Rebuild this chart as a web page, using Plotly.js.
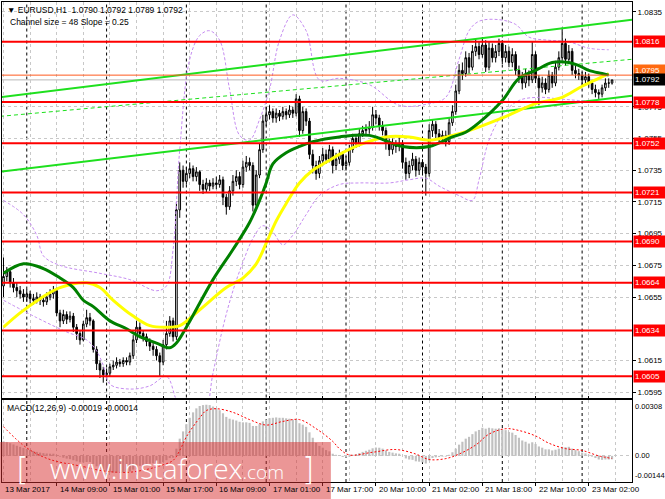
<!DOCTYPE html>
<html><head><meta charset="utf-8">
<script src="https://cdn.plot.ly/plotly-3.0.1.min.js"></script>
<style>html,body{margin:0;padding:0;background:#fff}#chart{width:665px;height:499px}</style>
</head><body><div id="chart"></div>
<script>
// ---------- DATA ----------
const openP=[1.0662,1.0668,1.0671,1.0664,1.0661,1.0659,1.0657,1.0655,1.0657,1.0654,
1.0653,1.0655,1.0653,1.0652,1.0655,1.0657,1.0659,1.0645,1.0640,1.0644,
1.0641,1.0643,1.0636,1.0632,1.0628,1.0638,1.0642,1.0640,1.0622,1.0613,
1.0609,1.0606,1.0607,1.0611,1.0612,1.0614,1.0613,1.0615,1.0614,1.0618,
1.0628,1.0636,1.0632,1.0630,1.0627,1.0624,1.0622,1.0618,1.0614,1.0625,
1.0632,1.0640,1.0630,1.0710,1.0735,1.0728,1.0733,1.0736,1.0731,1.0734,
1.0726,1.0723,1.0727,1.0725,1.0727,1.0726,1.0729,1.0718,1.0712,1.0722,
1.0728,1.0731,1.0726,1.0737,1.0740,1.0738,1.0713,1.0732,1.0748,1.0766,
1.0770,1.0772,1.0768,1.0771,1.0769,1.0772,1.0770,1.0773,1.0771,1.0780,
1.0760,1.0772,1.0766,1.0745,1.0738,1.0733,1.0741,1.0745,1.0742,1.0748,
1.0738,1.0742,1.0745,1.0738,1.0740,1.0748,1.0755,1.0752,1.0758,1.0760,
1.0761,1.0762,1.0770,1.0768,1.0763,1.0760,1.0752,1.0748,1.0752,1.0750,
1.0752,1.0740,1.0733,1.0738,1.0742,1.0735,1.0740,1.0737,1.0733,1.0760,
1.0764,1.0758,1.0755,1.0757,1.0753,1.0765,1.0772,1.0785,1.0798,1.0796,
1.0806,1.0800,1.0810,1.0813,1.0808,1.0814,1.0800,1.0812,1.0806,1.0810,
1.0815,1.0806,1.0810,1.0803,1.0808,1.0798,1.0794,1.0790,1.0795,1.0792,
1.0808,1.0793,1.0787,1.0790,1.0786,1.0795,1.0790,1.0800,1.0806,1.0815,
1.0805,1.0810,1.0798,1.0796,1.0795,1.0792,1.0794,1.0790,1.0786,1.0784,
1.0783,1.0787,1.0790,1.0790];
const highP=[1.0680,1.0674,1.0673,1.0667,1.0664,1.0662,1.0660,1.0660,1.0659,1.0657,
1.0658,1.0657,1.0656,1.0658,1.0660,1.0662,1.0661,1.0647,1.0647,1.0646,
1.0646,1.0645,1.0638,1.0634,1.0640,1.0647,1.0645,1.0641,1.0624,1.0615,
1.0611,1.0610,1.0613,1.0615,1.0617,1.0616,1.0617,1.0617,1.0620,1.0631,
1.0640,1.0639,1.0634,1.0632,1.0629,1.0626,1.0624,1.0620,1.0628,1.0640,
1.0643,1.0642,1.0715,1.0740,1.0738,1.0737,1.0740,1.0738,1.0737,1.0735,
1.0729,1.0730,1.0729,1.0730,1.0731,1.0732,1.0731,1.0720,1.0725,1.0732,
1.0735,1.0734,1.0741,1.0744,1.0743,1.0740,1.0735,1.0752,1.0770,1.0775,
1.0776,1.0774,1.0774,1.0773,1.0775,1.0774,1.0776,1.0775,1.0783,1.0782,
1.0775,1.0774,1.0768,1.0748,1.0741,1.0744,1.0749,1.0748,1.0751,1.0750,
1.0746,1.0748,1.0747,1.0744,1.0751,1.0758,1.0757,1.0761,1.0763,1.0764,
1.0766,1.0775,1.0773,1.0770,1.0766,1.0762,1.0755,1.0755,1.0754,1.0756,
1.0754,1.0743,1.0741,1.0746,1.0744,1.0743,1.0742,1.0739,1.0764,1.0767,
1.0766,1.0761,1.0760,1.0760,1.0768,1.0776,1.0789,1.0802,1.0803,1.0810,
1.0809,1.0814,1.0818,1.0816,1.0819,1.0817,1.0816,1.0815,1.0814,1.0818,
1.0817,1.0814,1.0813,1.0812,1.0810,1.0801,1.0797,1.0799,1.0798,1.0816,
1.0810,1.0795,1.0794,1.0793,1.0798,1.0797,1.0804,1.0810,1.0825,1.0818,
1.0814,1.0812,1.0801,1.0799,1.0797,1.0797,1.0796,1.0792,1.0789,1.0786,
1.0789,1.0793,1.0793,1.0792];
const lowP=[1.0655,1.0665,1.0661,1.0658,1.0655,1.0654,1.0652,1.0652,1.0651,1.0650,
1.0651,1.0650,1.0649,1.0650,1.0653,1.0654,1.0643,1.0636,1.0638,1.0638,
1.0639,1.0633,1.0628,1.0625,1.0627,1.0636,1.0637,1.0620,1.0609,1.0604,
1.0601,1.0602,1.0605,1.0609,1.0610,1.0611,1.0611,1.0612,1.0612,1.0616,
1.0626,1.0629,1.0627,1.0624,1.0621,1.0618,1.0615,1.0605,1.0612,1.0622,
1.0630,1.0627,1.0628,1.0705,1.0724,1.0726,1.0730,1.0728,1.0728,1.0722,
1.0720,1.0721,1.0722,1.0723,1.0723,1.0724,1.0713,1.0707,1.0710,1.0719,
1.0725,1.0723,1.0724,1.0734,1.0735,1.0709,1.0711,1.0730,1.0746,1.0763,
1.0767,1.0765,1.0765,1.0766,1.0767,1.0767,1.0768,1.0768,1.0769,1.0756,
1.0758,1.0763,1.0742,1.0733,1.0729,1.0730,1.0738,1.0739,1.0740,1.0733,
1.0735,1.0739,1.0735,1.0735,1.0738,1.0746,1.0749,1.0750,1.0756,1.0757,
1.0758,1.0760,1.0764,1.0760,1.0757,1.0748,1.0744,1.0745,1.0746,1.0747,
1.0736,1.0729,1.0730,1.0735,1.0731,1.0732,1.0733,1.0719,1.0731,1.0756,
1.0755,1.0752,1.0752,1.0750,1.0751,1.0763,1.0770,1.0783,1.0792,1.0794,
1.0796,1.0798,1.0807,1.0805,1.0806,1.0797,1.0798,1.0803,1.0803,1.0807,
1.0802,1.0803,1.0800,1.0800,1.0795,1.0790,1.0786,1.0787,1.0788,1.0790,
1.0790,1.0776,1.0784,1.0783,1.0784,1.0787,1.0788,1.0798,1.0804,1.0801,
1.0802,1.0795,1.0793,1.0792,1.0789,1.0789,1.0787,1.0783,1.0781,1.0780,
1.0781,1.0785,1.0787,1.0789];
const closeP=[1.0668,1.0671,1.0664,1.0661,1.0659,1.0657,1.0655,1.0657,1.0654,1.0653,
1.0655,1.0653,1.0652,1.0655,1.0657,1.0659,1.0645,1.0640,1.0644,1.0641,
1.0643,1.0636,1.0632,1.0628,1.0638,1.0642,1.0640,1.0622,1.0613,1.0609,
1.0606,1.0607,1.0611,1.0612,1.0614,1.0613,1.0615,1.0614,1.0618,1.0628,
1.0636,1.0632,1.0630,1.0627,1.0624,1.0622,1.0618,1.0614,1.0625,1.0632,
1.0640,1.0630,1.0710,1.0735,1.0728,1.0733,1.0736,1.0731,1.0734,1.0726,
1.0723,1.0727,1.0725,1.0727,1.0726,1.0729,1.0718,1.0712,1.0722,1.0728,
1.0731,1.0726,1.0737,1.0740,1.0738,1.0713,1.0732,1.0748,1.0766,1.0770,
1.0772,1.0768,1.0771,1.0769,1.0772,1.0770,1.0773,1.0771,1.0780,1.0760,
1.0772,1.0766,1.0745,1.0738,1.0733,1.0741,1.0745,1.0742,1.0748,1.0738,
1.0742,1.0745,1.0738,1.0740,1.0748,1.0755,1.0752,1.0758,1.0760,1.0761,
1.0762,1.0770,1.0768,1.0763,1.0760,1.0752,1.0748,1.0752,1.0750,1.0752,
1.0740,1.0733,1.0738,1.0742,1.0735,1.0740,1.0737,1.0733,1.0760,1.0764,
1.0758,1.0755,1.0757,1.0753,1.0765,1.0772,1.0785,1.0798,1.0796,1.0806,
1.0800,1.0810,1.0813,1.0808,1.0814,1.0800,1.0812,1.0806,1.0810,1.0815,
1.0806,1.0810,1.0803,1.0808,1.0798,1.0794,1.0790,1.0795,1.0792,1.0808,
1.0793,1.0787,1.0790,1.0786,1.0795,1.0790,1.0800,1.0806,1.0815,1.0805,
1.0810,1.0798,1.0796,1.0795,1.0792,1.0794,1.0790,1.0786,1.0784,1.0783,
1.0787,1.0790,1.0790,1.0792];

const macdHist=[0.00080,0.00075,0.00070,0.00063,0.00056,0.00050,0.00044,0.00038,0.00032,0.00027,
0.00022,0.00018,0.00015,0.00013,0.00012,0.00012,0.00005,-0.00004,-0.00010,-0.00015,
-0.00018,-0.00024,-0.00030,-0.00036,-0.00036,-0.00034,-0.00034,-0.00045,-0.00058,-0.00070,
-0.00080,-0.00086,-0.00090,-0.00092,-0.00093,-0.00093,-0.00092,-0.00090,-0.00086,-0.00076,
-0.00062,-0.00055,-0.00050,-0.00046,-0.00043,-0.00041,-0.00041,-0.00042,-0.00034,-0.00024,
-0.00012,-0.00010,0.00040,0.00095,0.00135,0.00175,0.00210,0.00240,0.00262,0.00275,
0.00280,0.00282,0.00280,0.00272,0.00262,0.00252,0.00235,0.00215,0.00205,0.00200,
0.00195,0.00188,0.00185,0.00185,0.00182,0.00165,0.00165,0.00175,0.00190,0.00200,
0.00208,0.00210,0.00212,0.00210,0.00210,0.00207,0.00205,0.00200,0.00200,0.00180,
0.00172,0.00160,0.00130,0.00100,0.00072,0.00055,0.00045,0.00032,0.00025,0.00012,
0.00006,0.00003,-0.00006,-0.00008,-0.00004,0.00006,0.00010,0.00016,0.00022,0.00028,
0.00034,0.00042,0.00046,0.00045,0.00040,0.00030,0.00022,0.00018,0.00014,0.00012,
0.00000,-0.00014,-0.00020,-0.00022,-0.00030,-0.00032,-0.00036,-0.00042,-0.00025,-0.00012,
-0.00008,-0.00006,-0.00004,-0.00004,0.00006,0.00020,0.00040,0.00062,0.00078,0.00095,
0.00105,0.00120,0.00135,0.00143,0.00155,0.00150,0.00155,0.00152,0.00150,0.00152,
0.00145,0.00142,0.00132,0.00128,0.00115,0.00100,0.00085,0.00078,0.00068,0.00075,
0.00066,0.00052,0.00045,0.00036,0.00036,0.00030,0.00034,0.00040,0.00050,0.00048,
0.00050,0.00040,0.00032,0.00026,0.00018,0.00014,0.00006,-0.00004,-0.00012,-0.00020,
-0.00022,-0.00020,-0.00020,-0.00019];

const sigIdx=[0,7,14,24,29,34,38,43,47,51,53,55,59,61,64,69,74,79,84,89,94,99,101,104,111,118,124,128,133,137,142,146,151,155,160,164,169,174,179,183];
const sigVal=[0.00161,0.00044,-0.00020,-0.00059,-0.00080,-0.00090,-0.00090,-0.00075,-0.00055,-0.00025,0.00030,0.00105,0.00210,0.00250,0.00260,0.00240,0.00200,0.00170,0.00190,0.00200,0.00150,0.00080,0.00040,0.00005,0.00020,0.00035,0.00010,-0.00020,-0.00015,0.00010,0.00060,0.00120,0.00150,0.00140,0.00110,0.00070,0.00040,0.00030,0.00000,-0.00014];

const greenIdx=[0,6,12,17,21,24,27,32,37,41,46,50,52,55,63,69,74,77,79,81,85,89,93,101,110,120,128,135,139,143,150,155,160,165,170,173,176,180,182];
const greenVal=[1.0670,1.0676,1.0673,1.0667,1.0661,1.0653,1.0649,1.0640,1.0635,1.0630,1.0626,1.0623,1.0626,1.0636,1.0666,1.0685,1.0702,1.0716,1.0727,1.0739,1.0746,1.0750,1.0753,1.0756,1.0757,1.0750,1.0750,1.0756,1.0759,1.0765,1.0779,1.0793,1.0798,1.0803,1.0803,1.0801,1.0798,1.0796,1.0795];
const yellowIdx=[0,5,11,17,25,29,33,39,44,49,53,59,67,72,76,79,82,85,89,93,97,101,107,115,122,128,135,140,150,160,168,174,179,182];
const yellowVal=[1.0636,1.0645,1.0654,1.0661,1.0664,1.0661,1.0653,1.0643,1.0637,1.0636,1.0637,1.0647,1.0661,1.0667,1.0676,1.0689,1.0703,1.0714,1.0727,1.0735,1.0740,1.0745,1.0751,1.0756,1.0756,1.0754,1.0757,1.0760,1.0768,1.0777,1.0781,1.0788,1.0793,1.0796];
const upperIdx=[0,6,10,12,17,29,38,46,49,51,53,56,59,62,65,68,71,74,77,80,83,87,91,95,101,110,119,128,133,137,140,143,149,154,158,164,170,176,182];
const upperVal=[1.0716,1.0707,1.0694,1.0681,1.0675,1.0670,1.0666,1.0659,1.0662,1.0685,1.0748,1.0805,1.0820,1.0823,1.0817,1.0786,1.0757,1.0754,1.0767,1.0786,1.0817,1.0833,1.0823,1.0792,1.0793,1.0789,1.0776,1.0777,1.0781,1.0805,1.0823,1.0829,1.0830,1.0827,1.0819,1.0817,1.0816,1.0812,1.0811];
const lowerIdx=[0,10,19,25,28,30,32,38,44,49,52,56,60,63,66,69,72,75,78,81,84,87,91,95,101,107,116,122,127,131,137,141,143,146,150,155,161,167,173,182];
const lowerVal=[1.0653,1.0642,1.0633,1.0628,1.0621,1.0612,1.0600,1.0597,1.0599,1.0605,1.0590,1.0574,1.0577,1.0607,1.0636,1.0659,1.0677,1.0692,1.0700,1.0696,1.0688,1.0694,1.0707,1.0719,1.0726,1.0727,1.0727,1.0729,1.0730,1.0725,1.0719,1.0716,1.0729,1.0754,1.0770,1.0779,1.0781,1.0780,1.0779,1.0778];

const chanIdx=[-1.05,189];
const chanUpper=[1.0781,1.0830];
const chanMid=[1.0769,1.0805];
const chanLower=[1.0734,1.0782];

const levels=[1.0816,1.0778,1.0752,1.0721,1.0690,1.0664,1.0634,1.0605];
const askLevel=1.0795, bidLevel=1.0792;
const priceTicks=[1.0595,1.0615,1.0655,1.0675,1.0695,1.0715,1.0735,1.0755,1.0775,1.0835];
const macdTicks=[0.00308,0,-0.00144];
const macdTickText=['0.00308','0.00','-0.00144'];
const timeLabels=['13 Mar 2017','14 Mar 09:00','15 Mar 01:00','15 Mar 17:00','16 Mar 09:00','17 Mar 01:00','17 Mar 17:00','20 Mar 10:00','21 Mar 02:00','21 Mar 18:00','22 Mar 10:00','23 Mar 02:00'];
const timeIdx=[0,16,32,48,64,80,96,112,128,144,160,176];
const daySep=[7,31,55,79,103,126,150,174];
const headerText='▼ EURUSD,H1  1.0790 1.0792 1.0789 1.0792';
const channelText='Channel size = 48 Slope = 0.25';
const macdText='MACD(12,26,9) -0.00019 -0.00014';

// ---------- CHART ----------
const barX=closeP.map((_,i)=>i);
const FONT='Liberation Sans, Arial, sans-serif';
const band={color:'#C58CF0',width:1,dash:'3px,2px',shape:'spline'};

const traces=[
 {type:'candlestick',x:barX,open:openP,high:highP,low:lowP,close:closeP,xaxis:'x',yaxis:'y',
  increasing:{line:{color:'#000',width:1},fillcolor:'#fff'},
  decreasing:{line:{color:'#000',width:1},fillcolor:'#000'},
  whiskerwidth:0,hoverinfo:'skip'},
 {type:'scatter',mode:'lines',x:upperIdx,y:upperVal,line:band,yaxis:'y',hoverinfo:'skip'},
 {type:'scatter',mode:'lines',x:lowerIdx,y:lowerVal,line:band,yaxis:'y',hoverinfo:'skip'},
 {type:'scatter',mode:'lines',x:chanIdx,y:chanUpper,line:{color:'#1EE01E',width:2},yaxis:'y',hoverinfo:'skip'},
 {type:'scatter',mode:'lines',x:chanIdx,y:chanMid,line:{color:'#1EE01E',width:1,dash:'4px,3px'},yaxis:'y',hoverinfo:'skip'},
 {type:'scatter',mode:'lines',x:chanIdx,y:chanLower,line:{color:'#1EE01E',width:2},yaxis:'y',hoverinfo:'skip'},
 {type:'scatter',mode:'lines',x:yellowIdx,y:yellowVal,line:{color:'#FFFF00',width:3,shape:'spline'},yaxis:'y',hoverinfo:'skip'},
 {type:'scatter',mode:'lines',x:greenIdx,y:greenVal,line:{color:'#008000',width:3,shape:'spline'},yaxis:'y',hoverinfo:'skip'},
 {type:'bar',x:barX,y:macdHist,xaxis:'x',yaxis:'y2',marker:{color:'#C0C0C0',line:{width:0}},hoverinfo:'skip'},
 {type:'scatter',mode:'lines',x:sigIdx,y:sigVal,xaxis:'x',yaxis:'y2',line:{color:'#FF0000',width:1,dash:'2px,2px',shape:'spline'},hoverinfo:'skip'}
];

const shapes=[];
daySep.forEach(d=>{
 shapes.push({type:'line',xref:'x',yref:'paper',x0:d,x1:d,y0:0.176,y1:1,layer:'below',line:{color:'#000',width:1,dash:'3px,3px'}});
 shapes.push({type:'line',xref:'x',yref:'paper',x0:d,x1:d,y0:0,y1:0.1708,layer:'below',line:{color:'#000',width:1,dash:'3px,3px'}});
});
levels.forEach(v=>shapes.push({type:'line',xref:'paper',yref:'y',x0:0,x1:1,y0:v,y1:v,layer:'above',line:{color:'#FF0000',width:2}}));
shapes.push({type:'line',xref:'paper',yref:'y',x0:0,x1:1,y0:askLevel,y1:askLevel,layer:'above',line:{color:'#FF5A1E',width:1}});
shapes.push({type:'line',xref:'paper',yref:'y',x0:0,x1:1,y0:bidLevel,y1:bidLevel,layer:'below',line:{color:'#B8B8B8',width:1}});
shapes.push({type:'rect',xref:'paper',yref:'paper',x0:-0.004,x1:0.522,y0:-0.036,y1:0.0833,layer:'above',fillcolor:'rgba(215,45,45,0.5)',line:{width:0}});

const ann=[];
ann.push({xref:'paper',yref:'paper',x:0.005,y:1,xanchor:'left',yanchor:'top',yshift:-1,text:headerText,showarrow:false,font:{family:FONT,size:8.5,color:'#000'}});
ann.push({xref:'paper',yref:'paper',x:0.009,y:1,xanchor:'left',yanchor:'top',yshift:-13,text:channelText,showarrow:false,font:{family:FONT,size:8.5,color:'#000'}});
ann.push({xref:'paper',yref:'paper',x:0.005,y:0.1708,xanchor:'left',yanchor:'top',yshift:-1,text:macdText,showarrow:false,font:{family:FONT,size:8.5,color:'#000'}});
timeLabels.forEach((t,i)=>ann.push({xref:'x',yref:'paper',x:timeIdx[i],y:0,xanchor:'left',yanchor:'top',xshift:i===0?-1:1,yshift:-1,text:t,showarrow:false,font:{family:FONT,size:8,color:'#000'}}));
levels.forEach(v=>ann.push({xref:'paper',yref:'y',x:1,y:v,xanchor:'left',yanchor:'middle',xshift:1,text:v.toFixed(4),showarrow:false,bgcolor:'#FF0000',borderpad:1,width:29,align:'left',font:{family:FONT,size:8,color:'#fff'}}));
ann.push({xref:'paper',yref:'y',x:1,y:askLevel,xanchor:'left',yanchor:'bottom',xshift:1,yshift:-2,text:askLevel.toFixed(4),showarrow:false,bgcolor:'#FF6A10',borderpad:1,width:29,align:'left',font:{family:FONT,size:8,color:'#fff'}});
ann.push({xref:'paper',yref:'y',x:1,y:bidLevel,xanchor:'left',yanchor:'middle',xshift:1,text:bidLevel.toFixed(4),showarrow:false,bgcolor:'#000',borderpad:1,width:29,align:'left',font:{family:FONT,size:8,color:'#fff'}});
macdTicks.forEach((v,i)=>ann.push({xref:'paper',yref:'y2',x:1,y:v,xanchor:'left',yanchor:i===0?'top':(i===2?'bottom':'middle'),xshift:1,text:macdTickText[i],showarrow:false,font:{family:FONT,size:7.5,color:'#000'}}));
ann.push({xref:'paper',yref:'paper',x:0.262,y:0.030,xanchor:'center',yanchor:'middle',text:"www.instaforex<span style='font-size:19px'>.com</span>",showarrow:false,font:{family:'Open Sans, sans-serif',size:28,weight:300,color:'#ffffff'}});
ann.push({xref:'paper',yref:'paper',x:0.032,y:0.028,xanchor:'center',yanchor:'middle',text:'[',showarrow:false,font:{family:'DejaVu Sans, sans-serif',size:32,weight:300,color:'#ffffff'}});
ann.push({xref:'paper',yref:'paper',x:0.486,y:0.028,xanchor:'center',yanchor:'middle',text:']',showarrow:false,font:{family:'DejaVu Sans, sans-serif',size:32,weight:300,color:'#ffffff'}});

const gridCol='#C8C8C8';
const layout={
 width:665,height:499,margin:{l:2,r:33,t:2,b:17},
 paper_bgcolor:'#fff',plot_bgcolor:'#fff',showlegend:false,
 font:{family:FONT,size:8,color:'#000'},
 bargap:0.35,
 xaxis:{range:[-0.45,189],anchor:'y2',showticklabels:false,tickmode:'array',tickvals:timeIdx.slice(1),
  ticks:'outside',ticklen:3,tickcolor:'#000',showgrid:true,gridcolor:gridCol,griddash:'3px,3px',gridwidth:1,
  minor:{tickmode:'linear',tick0:0,dtick:8,showgrid:true,gridcolor:gridCol,griddash:'3px,3px',ticks:''},
  showline:true,linecolor:'#000',linewidth:1,mirror:'all',zeroline:false,rangeslider:{visible:false},fixedrange:true},
 yaxis:{domain:[0.176,1],range:[1.059165,1.084113],side:'right',tickmode:'array',tickvals:priceTicks,
  ticktext:priceTicks.map(v=>v.toFixed(4)),ticks:'outside',ticklen:3,tickcolor:'#000',
  tickfont:{family:FONT,size:8,color:'#000'},
  showgrid:true,gridcolor:gridCol,griddash:'3px,3px',showline:true,linecolor:'#000',mirror:true,zeroline:false,fixedrange:true},
 yaxis2:{domain:[0,0.1708],range:[-0.00144,0.00308],side:'right',tickmode:'array',tickvals:[0],showticklabels:false,
  ticks:'',showgrid:true,gridcolor:gridCol,griddash:'3px,3px',showline:true,linecolor:'#000',mirror:true,zeroline:false,fixedrange:true},
 shapes:shapes,annotations:ann
};
Plotly.newPlot('chart',traces,layout,{staticPlot:true,displayModeBar:false});
</script>
</body></html>
